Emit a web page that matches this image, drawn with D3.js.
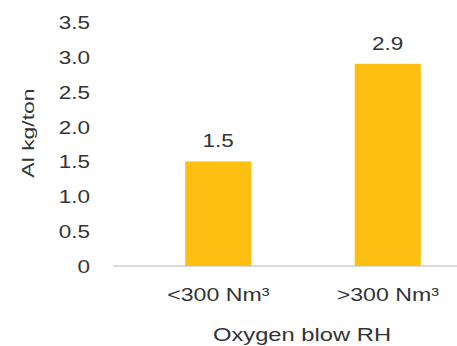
<!DOCTYPE html>
<html>
<head>
<meta charset="utf-8">
<script src="https://cdn.jsdelivr.net/npm/d3@7"></script>
<style>
  body { margin: 0; background: #fff; }
  text { font-family: "Liberation Sans", Arial, sans-serif; fill: #333; }
</style>
</head>
<body>
<div id="chart"></div>
<script>
// Donnees
const categories = ["<300 Nm³", ">300 Nm³"];
const values = [1.5, 2.9];
const yTicks = [0, 0.5, 1.0, 1.5, 2.0, 2.5, 3.0, 3.5];

const width = 457, height = 346;
const sx = 1.25; // le texte de l'original est un peu etire en largeur

const svg = d3.select("#chart")
    .append("svg")
    .attr("width", width)
    .attr("height", height);

// Axe Y
const y = d3.scaleLinear()
    .domain([0, 3.5])
    .range([266, 22]);

// Axe X (bandes)
const x = d3.scaleBand()
    .domain(categories)
    .range([133.5, 472.5])
    .paddingInner(0.61)
    .paddingOuter(0.305);

// ligne de base
svg.append("line")
    .attr("x1", 113).attr("x2", width)
    .attr("y1", y(0)).attr("y2", y(0))
    .attr("stroke", "#d9d9d9")
    .attr("stroke-width", 2);

// etiquettes de l'axe Y
svg.append("g")
    .selectAll("text")
    .data(yTicks)
    .join("text")
    .attr("transform", d => `translate(90,${y(d) + 7}) scale(${sx},1)`)
    .attr("text-anchor", "end")
    .style("font-size", "18px")
    .text(d => d === 0 ? "0" : d3.format(".1f")(d));

// barres
svg.append("g")
    .selectAll("rect")
    .data(values)
    .join("rect")
    .attr("x", (d, i) => x(categories[i]))
    .attr("y", d => y(d))
    .attr("width", x.bandwidth())
    .attr("height", d => y(0) - y(d))
    .attr("fill", "#fdbf12");

// valeurs au-dessus des barres
svg.append("g")
    .selectAll("text")
    .data(values)
    .join("text")
    .attr("transform", (d, i) =>
        `translate(${x(categories[i]) + x.bandwidth() / 2},${y(d) - 14}) scale(${sx},1)`)
    .attr("text-anchor", "middle")
    .style("font-size", "18px")
    .text(d => d3.format(".1f")(d));

// categories
svg.append("g")
    .selectAll("text")
    .data(categories)
    .join("text")
    .attr("transform", d => `translate(${x(d) + x.bandwidth() / 2},301) scale(${sx},1)`)
    .attr("text-anchor", "middle")
    .style("font-size", "18.5px")
    .text(d => d);

// titres des axes
svg.append("text")
    .attr("transform", `translate(34,133) rotate(-90) scale(1.35,1)`)
    .attr("text-anchor", "middle")
    .style("font-size", "17px")
    .text("Al kg/ton");

svg.append("text")
    .attr("transform", `translate(302,341) scale(${sx},1)`)
    .attr("text-anchor", "middle")
    .style("font-size", "19px")
    .text("Oxygen blow RH");
</script>
</body>
</html>
